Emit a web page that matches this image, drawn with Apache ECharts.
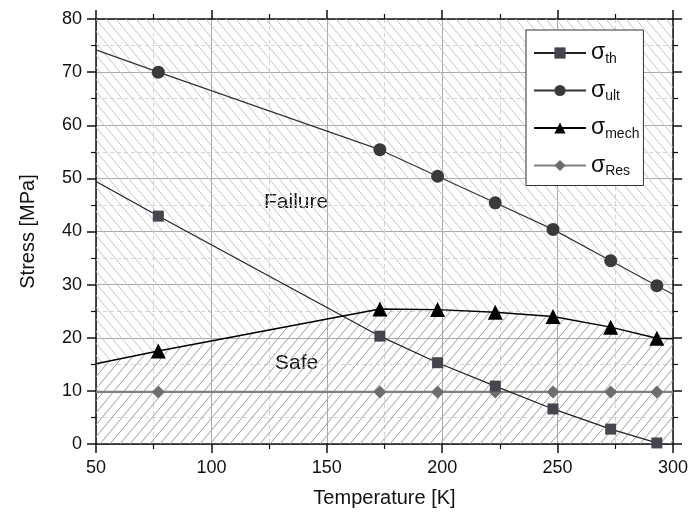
<!DOCTYPE html>
<html>
<head>
<meta charset="utf-8">
<script src="https://cdn.jsdelivr.net/npm/echarts@6/dist/echarts.min.js"></script>
<style>
  html, body { margin: 0; padding: 0; background: #fff; }
  #chart { width: 688px; height: 514px; }
</style>
</head>
<body>
<div id="chart"></div>
<script>
// measured temperatures [K]
var temps = [77, 173, 198, 223, 248, 273, 293];

// stresses [MPa]
var sigmaTh   = [42.9, 20.3, 15.3, 10.9, 6.6, 2.8, 0.2];
var sigmaUlt  = [70.0, 55.4, 50.4, 45.4, 40.4, 34.5, 29.8];
var sigmaMech = [17.5, 25.4, 25.3, 24.8, 24.0, 22.0, 19.9];
var sigmaRes  = [9.8, 9.8, 9.8, 9.8, 9.8, 9.8, 9.8];

// where the fitted lines meet the frame (no marker there)
var thStart   = [50, 49.4];
var ultStart  = [50, 74.2];
var ultEnd    = [300, 28.2];
var mechStart = [50, 15.1];
var mechEnd   = [300, 19.8];
var resStart  = [50, 9.8];
var resEnd    = [300, 9.8];

var xTicks = [50, 100, 150, 200, 250, 300];
var yTicks = [0, 10, 20, 30, 40, 50, 60, 70, 80];

function pts(xs, ys, head, tail) {
  var out = [];
  if (head) out.push({ value: head, symbol: 'none' });
  for (var i = 0; i < xs.length; i++) out.push([xs[i], ys[i]]);
  if (tail) out.push({ value: tail, symbol: 'none' });
  return out;
}

// diagonal hatch tile, dir > 0 => "/", else "\"
function hatch(dir, color, w, h) {
  var c = document.createElement('canvas');
  c.width = w; c.height = h;
  var g = c.getContext('2d');
  g.strokeStyle = color;
  g.lineWidth = 1;
  g.beginPath();
  for (var k = -1; k <= 1; k++) {
    if (dir > 0) { g.moveTo(k * w, h); g.lineTo(k * w + w, 0); }
    else { g.moveTo(k * w, 0); g.lineTo(k * w + w, h); }
  }
  g.stroke();
  return c;
}

var font = 'Liberation Sans, Arial, sans-serif';
var mechData = pts(temps, sigmaMech, mechStart, mechEnd);

function xAx(pos, labels) {
  return {
    type: 'value', position: pos, min: xTicks[0], max: xTicks[xTicks.length - 1], interval: 50,
    name: labels ? 'Temperature [K]' : '', nameLocation: 'middle', nameGap: 44,
    nameTextStyle: { fontFamily: font, fontSize: 20, color: '#111' },
    axisLine: { show: true, onZero: false, lineStyle: { color: '#111', width: 1.5 } },
    axisTick: { show: true, inside: false, length: 9, lineStyle: { color: '#111', width: 1.5 } },
    minorTick: { show: true, splitNumber: 2, length: 5, lineStyle: { color: '#111', width: 1.2 } },
    axisLabel: { show: labels, fontFamily: font, fontSize: 18, color: '#111', margin: 15 },
    splitLine: { show: labels, lineStyle: { color: '#aaaaaa', width: 1 } },
    minorSplitLine: { show: labels, lineStyle: { color: '#d4d4d4', width: 1, type: [4, 3] } }
  };
}
function yAx(pos, labels) {
  return {
    type: 'value', position: pos, min: yTicks[0], max: yTicks[yTicks.length - 1], interval: 10,
    name: labels ? 'Stress [MPa]' : '', nameLocation: 'middle', nameGap: 58, nameRotate: 90,
    nameTextStyle: { fontFamily: font, fontSize: 20, color: '#111' },
    axisLine: { show: true, onZero: false, lineStyle: { color: '#111', width: 1.5 } },
    axisTick: { show: true, inside: false, length: 9, lineStyle: { color: '#111', width: 1.5 } },
    minorTick: { show: true, splitNumber: 2, length: 5, lineStyle: { color: '#111', width: 1.2 } },
    axisLabel: { show: labels, fontFamily: font, fontSize: 18, color: '#111', margin: 14 },
    splitLine: { show: labels, lineStyle: { color: '#aaaaaa', width: 1 } },
    minorSplitLine: { show: labels, lineStyle: { color: '#d4d4d4', width: 1, type: [4, 3] } }
  };
}

var option = {
  animation: false,
  backgroundColor: '#fff',
  grid: { left: 96, right: 15, top: 19, bottom: 70, outerBoundsMode: 'none' },
  xAxis: [xAx('bottom', true), xAx('top', false)],
  yAxis: [yAx('left', true), yAx('right', false)],
  legend: {
    orient: 'vertical', left: 526, top: 30,
    padding: [10, 4, 7, 7], itemGap: 11.5,
    itemWidth: 52, itemHeight: 14,
    backgroundColor: '#fff', borderColor: '#333', borderWidth: 1,
    data: ['th', 'ult', 'mech', 'Res'],
    formatter: function (n) { return '{s|σ}{b|' + n + '}'; },
    textStyle: {
      fontFamily: font, color: '#111',
      rich: {
        s: { fontSize: 23, fontFamily: font, lineHeight: 24 },
        b: { fontSize: 14, fontFamily: font, padding: [12, 0, 0, 0], lineHeight: 24 }
      }
    }
  },
  graphic: [
    { type: 'text', left: 264, top: 192, style: { text: 'Failure', font: '21px ' + font, fill: '#111' } },
    { type: 'text', left: 275, top: 353, style: { text: 'Safe', font: '21px ' + font, fill: '#111' } }
  ],
  series: [
    {
      name: 'failureZone', type: 'line', data: mechData, symbol: 'none', silent: true, z: 1,
      lineStyle: { width: 0 },
      areaStyle: { origin: 'end', opacity: 1, color: { image: hatch(-1, '#c6c6c6', 10, 12), repeat: 'repeat' } }
    },
    {
      name: 'safeZone', type: 'line', data: mechData, symbol: 'none', silent: true, z: 1,
      lineStyle: { width: 0 },
      areaStyle: { origin: 'start', opacity: 1, color: { image: hatch(1, '#9c9c9c', 10, 12), repeat: 'repeat' } }
    },
    {
      name: 'th', type: 'line', z: 5, data: pts(temps, sigmaTh, thStart, null),
      symbol: 'rect', symbolSize: 11, color: '#45454e',
      lineStyle: { color: '#222', width: 1.2 }, itemStyle: { color: '#45454e' }
    },
    {
      name: 'ult', type: 'line', z: 5, data: pts(temps, sigmaUlt, ultStart, ultEnd),
      symbol: 'circle', symbolSize: 13, color: '#3a3a3a',
      lineStyle: { color: '#333', width: 1.2 }, itemStyle: { color: '#3a3a3a' }
    },
    {
      name: 'mech', type: 'line', z: 5, data: mechData,
      symbol: 'triangle', symbolSize: 15, color: '#000',
      lineStyle: { color: '#000', width: 1.4 }, itemStyle: { color: '#000' }
    },
    {
      name: 'Res', type: 'line', z: 4, data: pts(temps, sigmaRes, resStart, resEnd),
      symbol: 'diamond', symbolSize: 13, color: '#6e6e6e',
      lineStyle: { color: '#808080', width: 2.2 }, itemStyle: { color: '#6e6e6e' }
    }
  ]
};

var chart = echarts.init(document.getElementById('chart'));
chart.setOption(option);
</script>
</body>
</html>
